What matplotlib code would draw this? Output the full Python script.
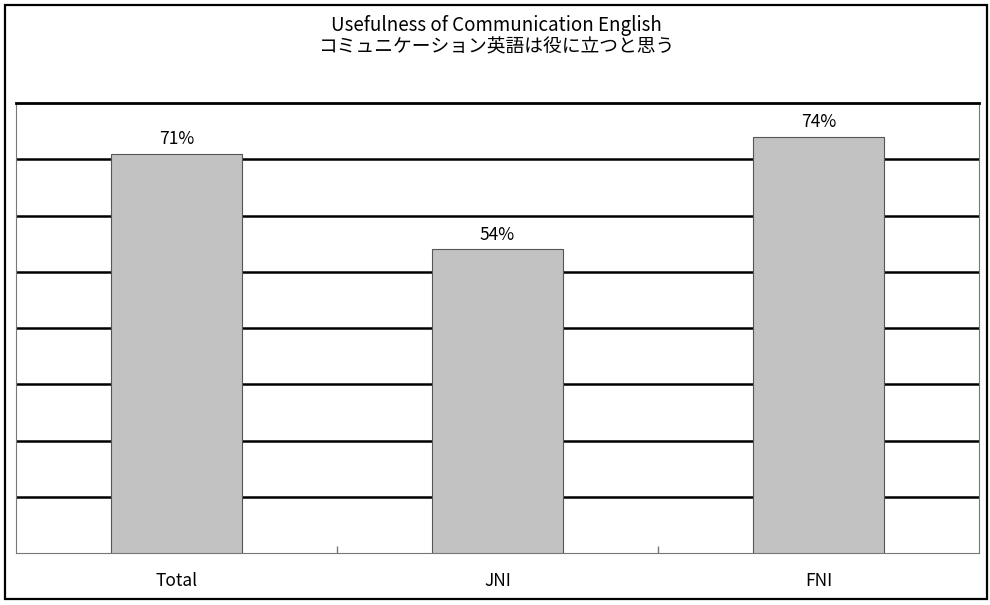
import matplotlib
matplotlib.use('Agg')
import matplotlib.pyplot as plt
from matplotlib.patches import Rectangle

plt.rcParams['font.family'] = ['Noto Sans CJK JP', 'DejaVu Sans']

# Data
categories = ['Total', 'JNI', 'FNI']
values = [71, 54, 74]
labels = ['71%', '54%', '74%']
title_en = 'Usefulness of Communication English'
title_jp = 'コミュニケーション英語は役に立つと思う'

fig = plt.figure(figsize=(9.9, 6.05), dpi=100)
ax = fig.add_axes([16 / 990, 52 / 605, 963 / 990, 450 / 605])

x = range(len(categories))
ax.bar(x, values, width=0.405, color='#c2c2c2', edgecolor='#555555',
       linewidth=0.8, zorder=3)

for xi, v, lab in zip(x, values, labels):
    ax.text(xi, v + 1.0, lab, ha='center', va='bottom', fontsize=12.5, zorder=4)

ax.set_xlim(-0.5, 2.5)
ax.set_ylim(0, 80)
ax.set_yticks(range(10, 80, 10))
ax.yaxis.grid(True, color='black', linewidth=1.8, zorder=0)
ax.tick_params(axis='y', left=False, labelleft=False)

# category separators as small ticks on the x axis
ax.set_xticks([0.5, 1.5])
ax.set_xticklabels([])
ax.tick_params(axis='x', direction='in', length=5, color='#777777', width=1)
for xi, cat in zip(x, categories):
    ax.text(xi, -5, cat, ha='center', va='center', fontsize=12.5)

for side in ['left', 'right', 'bottom']:
    ax.spines[side].set_color('#777777')
    ax.spines[side].set_linewidth(0.8)
ax.spines['top'].set_color('black')
ax.spines['top'].set_linewidth(2)

fig.text(496 / 990, 1 - 25 / 605, title_en, ha='center', va='center', fontsize=13.5)
fig.text(496 / 990, 1 - 47 / 605, title_jp, ha='center', va='center', fontsize=13.5)

# outer frame
fig.patches.append(Rectangle((5 / 990, 6 / 605), 982 / 990, 594 / 605,
                             transform=fig.transFigure, fill=False,
                             edgecolor='black', linewidth=1.6))

fig.savefig('out.png', dpi=100)
